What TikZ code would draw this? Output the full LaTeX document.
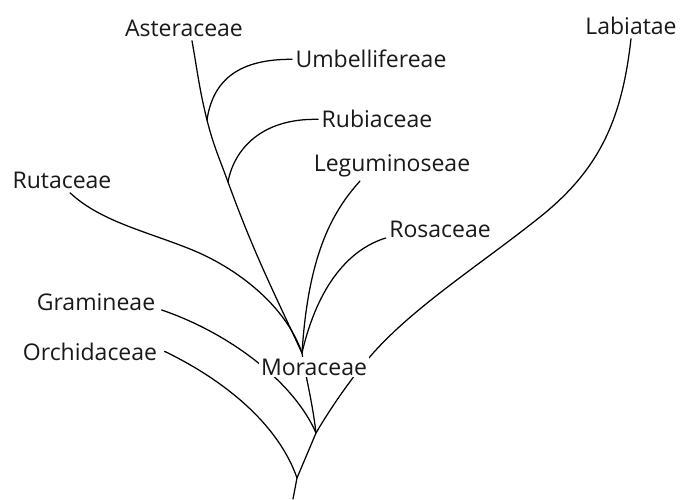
\documentclass[tikz,border=0pt]{standalone}
\usepackage{fontspec}
\setmainfont{Open Sans}

\begin{document}
\begin{tikzpicture}[x=1pt,y=1pt,
    taxon/.style={font=\fontsize{23}{27}\selectfont, text=black!90, anchor=base},
    branch/.style={line width=1.25pt, line cap=round}]
        \useasboundingbox (0,0) rectangle (681,499);

        % Family labels
        \node[taxon] (aster) at (184,462) {Asteraceae};
        \node[taxon] (umbel) at (371,431) {Umbellifereae};
        \node[taxon] (rubi) at (377,371) {Rubiaceae};
        \node[taxon] (legu) at (392,327) {Leguminoseae};
        \node[taxon] (ruta) at (62,310) {Rutaceae};
        \node[taxon] (rosa) at (440,261) {Rosaceae};
        \node[taxon] (labi) at (631,464) {Labiatae};
        \node[taxon] (gram) at (96,189) {Gramineae};
        \node[taxon] (orch) at (90,139) {Orchidaceae};

        % Branching points
        \coordinate (base) at (293,0);
        \coordinate (fork0) at (297,21);
        \coordinate (fork1) at (316,66);
        \coordinate (fork2) at (302,146);
        \coordinate (astA) at (207,379);
        \coordinate (astB) at (228,317);

        % Trunk
        \draw[branch] (base) -- (fork0) -- (fork1) .. controls (312,100) and (305,125) .. (fork2);

        % Asteraceae line with its two side branches
        \draw[branch] ([xshift=8pt]aster.south) to[out=-80,in=104] (astA) to[out=-76,in=110] (astB) to[out=-70,in=115] (fork2);
        \draw[branch] (umbel.west) .. controls (240,440) and (213,420) .. (astA);
        \draw[branch] (rubi.west) .. controls (262,381) and (234,350) .. (astB);

        % Branches meeting above Moraceae
        \draw[branch] ([xshift=8pt]ruta.south) .. controls (100,278) and (145,268) .. (190,250) .. controls (235,232) and (285,195) .. (fork2);
        \draw[branch] ([xshift=-32pt]legu.south) .. controls (330,285) and (308,240) .. (fork2);
        \draw[branch] (rosa.base west) .. controls (350,250) and (318,215) .. (fork2);

        % Branches passing behind Moraceae
        \draw[branch] (labi.south) .. controls (622,380) and (600,330) .. (540,282) .. controls (480,234) and (410,190) .. (368,140) .. controls (350,119) and (330,90) .. (fork1);
        \draw[branch] ([xshift=3pt]gram.base east) .. controls (232,165) and (295,115) .. (fork1);

        % Lowest branch
        \draw[branch] ([xshift=4pt]orch.east) .. controls (232,115) and (280,70) .. (fork0);

        % Moraceae label over the crossing lines
        \node[taxon, fill=white, inner sep=2pt] (mora) at (314,124) {Moraceae};
\end{tikzpicture}
\end{document}
